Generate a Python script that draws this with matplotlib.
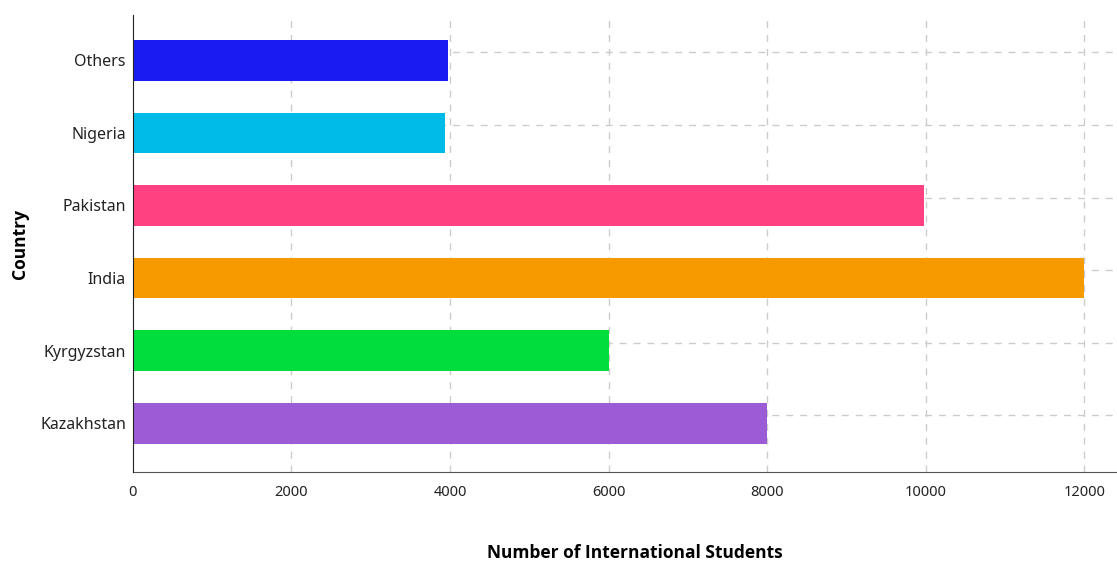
import matplotlib.pyplot as plt
import numpy as np

plt.rcParams['font.family'] = ['Noto Sans', 'DejaVu Sans']

# Data (bottom to top)
countries = ['Kazakhstan', 'Kyrgyzstan', 'India', 'Pakistan', 'Nigeria', 'Others']
students = [8000, 6000, 12000, 9980, 3940, 3980]
colors = ['#9c5cd6', '#00dd3d', '#f59b00', '#ff4081', '#00bbe8', '#1a1af2']
xticks = [0, 2000, 4000, 6000, 8000, 10000, 12000]

fig = plt.figure(figsize=(11.17, 5.62), dpi=100)
ax = fig.add_axes([0.119, 0.160, 0.881, 0.813])

y = np.arange(len(countries))
ax.barh(y, students, height=0.56, color=colors, zorder=3)

# grid lines (horizontal ones sit a bit above each bar centre, like the original)
for xv in xticks[1:]:
    ax.axvline(xv, color='#cccccc', lw=1, ls=(0, (5, 5)), zorder=1)
for yv in y:
    ax.axhline(yv + 0.11, color='#cccccc', lw=1, ls=(0, (5, 5)), zorder=1)

ax.set_xlim(0, 12414)
ax.set_ylim(-0.67, 5.62)
ax.set_xticks(xticks)
ax.set_xticklabels([str(v) for v in xticks])
ax.set_yticks(y)
ax.set_yticklabels(countries)
ax.tick_params(axis='x', length=0, pad=9, labelsize=10.5, colors='#222222')
ax.tick_params(axis='y', length=0, pad=5, labelsize=11.5, colors='#222222')

for s in ['top', 'right']:
    ax.spines[s].set_visible(False)
ax.spines['left'].set_color('#222222')
ax.spines['bottom'].set_color('#555555')
ax.spines['left'].set_zorder(4)

ax.set_xlabel('Number of International Students', fontsize=12.5, fontweight='bold',
              family=['Open Sans', 'DejaVu Sans'])
ax.set_ylabel('Country', fontsize=12.5, fontweight='bold',
              family=['Open Sans', 'DejaVu Sans'])
ax.xaxis.set_label_coords(0.51, -0.158)
ax.yaxis.set_label_coords(-0.106, 0.5)

fig.savefig('out.png', dpi=100)
